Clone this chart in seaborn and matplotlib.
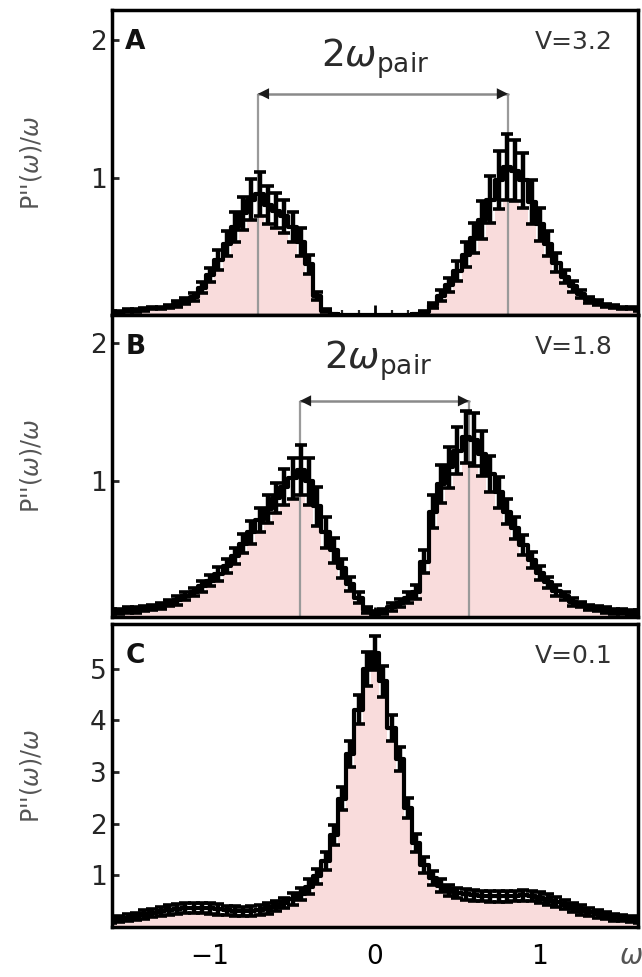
import numpy as np
import matplotlib.pyplot as plt
import seaborn as sns

# frequency grid (step 0.05)
omega = [-1.60, -1.55, -1.50, -1.45, -1.40, -1.35, -1.30, -1.25, -1.20, -1.15,
         -1.10, -1.05, -1.00, -0.95, -0.90, -0.85, -0.80, -0.75, -0.70, -0.65,
         -0.60, -0.55, -0.50, -0.45, -0.40, -0.35, -0.30, -0.25, -0.20, -0.15,
         -0.10, -0.05, 0.00, 0.05, 0.10, 0.15, 0.20, 0.25, 0.30, 0.35,
         0.40, 0.45, 0.50, 0.55, 0.60, 0.65, 0.70, 0.75, 0.80, 0.85,
         0.90, 0.95, 1.00, 1.05, 1.10, 1.15, 1.20, 1.25, 1.30, 1.35,
         1.40, 1.45, 1.50, 1.55, 1.60]

# panel A, V=3.2
val_a = [0.02, 0.02, 0.03, 0.03, 0.04, 0.05, 0.05, 0.06, 0.08, 0.10,
         0.13, 0.20, 0.29, 0.40, 0.52, 0.64, 0.74, 0.84, 0.88, 0.80,
         0.76, 0.72, 0.64, 0.53, 0.37, 0.14, 0.03, 0.01, 0.00, 0.00,
         0.00, 0.00, 0.00, 0.00, 0.00, 0.00, 0.00, 0.01, 0.02, 0.07,
         0.14, 0.22, 0.32, 0.44, 0.56, 0.69, 0.84, 0.98, 1.08, 1.05,
         0.98, 0.82, 0.66, 0.52, 0.38, 0.28, 0.21, 0.15, 0.11, 0.09,
         0.07, 0.06, 0.05, 0.05, 0.04]
err_a = [0.01, 0.01, 0.01, 0.01, 0.01, 0.01, 0.01, 0.01, 0.02, 0.02,
         0.03, 0.04, 0.05, 0.07, 0.09, 0.11, 0.12, 0.15, 0.16, 0.14,
         0.13, 0.12, 0.11, 0.10, 0.07, 0.03, 0.01, 0.00, 0.00, 0.00,
         0.00, 0.00, 0.00, 0.00, 0.00, 0.00, 0.00, 0.00, 0.01, 0.02,
         0.04, 0.05, 0.07, 0.09, 0.11, 0.14, 0.17, 0.21, 0.24, 0.22,
         0.20, 0.16, 0.12, 0.09, 0.07, 0.05, 0.04, 0.03, 0.02, 0.02,
         0.01, 0.01, 0.01, 0.01, 0.01]

# panel B, V=1.8
val_b = [0.06, 0.06, 0.07, 0.07, 0.08, 0.09, 0.10, 0.12, 0.14, 0.17,
         0.20, 0.24, 0.28, 0.33, 0.39, 0.46, 0.55, 0.63, 0.72, 0.80,
         0.88, 0.96, 1.02, 1.08, 1.00, 0.82, 0.63, 0.50, 0.37, 0.26,
         0.16, 0.07, 0.04, 0.06, 0.09, 0.12, 0.16, 0.20, 0.42, 0.78,
         0.98, 1.10, 1.22, 1.32, 1.30, 1.20, 1.05, 0.92, 0.78, 0.66,
         0.54, 0.43, 0.34, 0.27, 0.21, 0.17, 0.13, 0.11, 0.09, 0.08,
         0.07, 0.06, 0.06, 0.05, 0.05]
err_b = [0.02, 0.02, 0.02, 0.02, 0.02, 0.02, 0.02, 0.02, 0.03, 0.03,
         0.03, 0.04, 0.04, 0.05, 0.05, 0.06, 0.07, 0.08, 0.09, 0.10,
         0.11, 0.13, 0.15, 0.18, 0.17, 0.14, 0.11, 0.09, 0.07, 0.05,
         0.04, 0.02, 0.02, 0.02, 0.03, 0.03, 0.04, 0.05, 0.08, 0.12,
         0.14, 0.15, 0.17, 0.19, 0.19, 0.16, 0.13, 0.11, 0.09, 0.08,
         0.07, 0.06, 0.05, 0.04, 0.04, 0.03, 0.03, 0.02, 0.02, 0.02,
         0.02, 0.02, 0.02, 0.02, 0.02]

# panel C, V=0.1
val_c = [0.12, 0.15, 0.18, 0.21, 0.24, 0.27, 0.30, 0.33, 0.35, 0.37,
         0.37, 0.37, 0.36, 0.34, 0.32, 0.31, 0.30, 0.31, 0.33, 0.36,
         0.40, 0.46, 0.54, 0.64, 0.78, 0.98, 1.28, 1.78, 2.48, 3.35,
         4.20, 5.00, 5.30, 4.75, 3.85, 3.25, 2.30, 1.62, 1.20, 0.95,
         0.80, 0.71, 0.66, 0.63, 0.61, 0.60, 0.59, 0.59, 0.59, 0.60,
         0.61, 0.60, 0.57, 0.53, 0.48, 0.43, 0.38, 0.33, 0.29, 0.25,
         0.22, 0.19, 0.17, 0.15, 0.13]
err_c = [0.05, 0.06, 0.07, 0.07, 0.08, 0.08, 0.09, 0.09, 0.09, 0.10,
         0.10, 0.10, 0.10, 0.10, 0.09, 0.09, 0.09, 0.09, 0.09, 0.10,
         0.10, 0.10, 0.11, 0.12, 0.14, 0.15, 0.17, 0.20, 0.22, 0.25,
         0.28, 0.33, 0.33, 0.30, 0.26, 0.23, 0.20, 0.17, 0.15, 0.13,
         0.12, 0.11, 0.10, 0.10, 0.10, 0.10, 0.10, 0.10, 0.10, 0.10,
         0.10, 0.10, 0.10, 0.10, 0.10, 0.09, 0.09, 0.09, 0.08, 0.08,
         0.07, 0.07, 0.06, 0.06, 0.05]

letters = ['A', 'B', 'C']
v_labels = ['V=3.2', 'V=1.8', 'V=0.1']
pair_peaks = [(-0.71, 0.806), (-0.455, 0.57), None]
arrow_y = [1.61, 1.58, None]
pair_text_x = [0.0, 0.02, None]

sns.set_theme(style='ticks', rc={'axes.facecolor': 'white', 'figure.facecolor': 'white'})
plt.rcParams['font.family'] = ['DejaVu Sans']
plt.rcParams['mathtext.fontset'] = 'dejavusans'

fig = plt.figure(figsize=(6.42, 9.77), dpi=100)
left, width = 0.1745, 0.8193
ax_a = fig.add_axes([left, 0.6776, width, 0.3122])
ax_b = fig.add_axes([left, 0.3685, width, 0.3091])
ax_c = fig.add_axes([left, 0.0512, width, 0.3100])
axes = [ax_a, ax_b, ax_c]

pink = '#f9dcdc'
grey = '#9a9a9a'

for i, (ax, val, err) in enumerate(zip(axes, [val_a, val_b, val_c], [err_a, err_b, err_c])):
    val = np.array(val)
    err = np.array(err)
    low = np.clip(val - err, 0, None)
    ax.fill_between(omega, 0, low, step='mid', color=pink, lw=0, zorder=1)
    if pair_peaks[i] is not None:
        x1, x2 = pair_peaks[i]
        ya = arrow_y[i]
        ax.vlines([x1, x2], 0, ya, color=grey, lw=1.6, zorder=2)
        ax.plot([x1, x2], [ya, ya], color='#8a8a8a', lw=1.8, zorder=5)
        ax.annotate('', xy=(x2, ya), xytext=(x1, ya),
                    arrowprops=dict(arrowstyle='<|-|>', color='#1a1a1a', lw=0,
                                    mutation_scale=20, shrinkA=0, shrinkB=0),
                    zorder=5)
        ax.text(pair_text_x[i], 1.81, r'$2\omega_{\mathrm{pair}}$', fontsize=27,
                ha='center', va='baseline', color='#2a2a2a')
    sns.lineplot(x=omega, y=val, drawstyle='steps-mid', color='black', lw=3.0,
                 ax=ax, zorder=3)
    ax.errorbar(omega, val, yerr=err, fmt='none', ecolor='black', elinewidth=3.2,
                capsize=4, capthick=2.6, zorder=4)

    ax.set_xlim(-1.595, 1.595)
    ax.set_xticks([-1, 0, 1])
    ax.set_xticks(np.arange(-15, 16) / 10, minor=True)
    ax.tick_params(axis='x', which='major', direction='in', length=7, width=2,
                   labelsize=19, pad=12, colors='black')
    ax.tick_params(axis='x', which='minor', direction='in', length=3.5, width=1.6)
    ax.tick_params(axis='y', which='major', direction='in', length=5, width=2,
                   labelsize=19, pad=4)
    for sp in ax.spines.values():
        sp.set_visible(True)
        sp.set_linewidth(2.5)
        sp.set_color('black')
    ax.set_ylabel(r"P''$(\omega)/\omega$", fontsize=17, color='#555555')
    ax.yaxis.set_label_coords(-0.13, 0.5)
    ax.set_xlabel('')
    ax.text(0.025, 0.895, letters[i], transform=ax.transAxes, fontsize=19,
            fontweight='bold', ha='left', va='center', color='#111111')
    ax.text(0.952, 0.895, v_labels[i], transform=ax.transAxes, fontsize=18,
            ha='right', va='center', color='#333333')
    if i < 2:
        ax.tick_params(axis='x', labelbottom=False)

ax_a.set_ylim(0, 2.22)
ax_a.set_yticks([1, 2])
ax_b.set_ylim(0.02, 2.2)
ax_b.set_yticks([1, 2])
ax_c.set_ylim(0, 5.86)
ax_c.set_yticks([1, 2, 3, 4, 5])

fig.text(0.983, 0.022, r'$\omega$', fontsize=20, color='#555555', ha='center', va='center')

plt.savefig('out.png', dpi=100)
